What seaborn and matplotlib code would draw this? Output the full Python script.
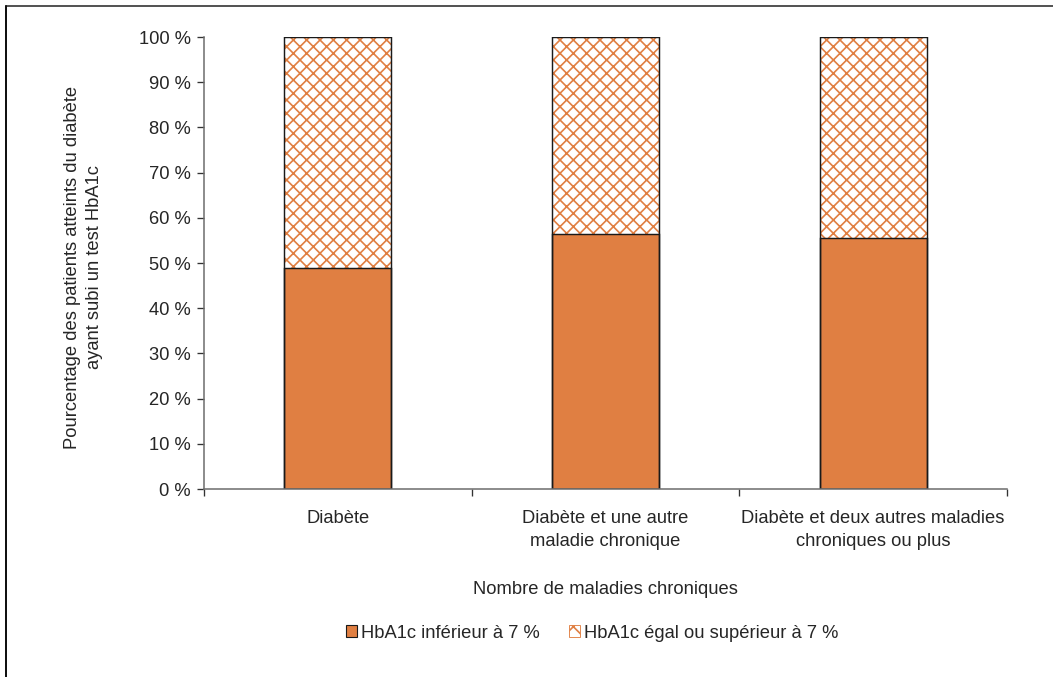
import matplotlib
matplotlib.use('Agg')
import matplotlib.pyplot as plt
from matplotlib.patches import Patch
from matplotlib.lines import Line2D
from matplotlib.ticker import FuncFormatter, FixedLocator
import pandas as pd
import seaborn as sns

# données
categories = ['Diabète',
              'Diabète et une autre\nmaladie chronique',
              'Diabète et deux autres maladies\nchroniques ou plus']
below_7 = [49.0, 56.5, 55.6]
total = [100, 100, 100]
series_names = ['HbA1c inférieur à 7 %', 'HbA1c égal ou supérieur à 7 %']

ORANGE = '#E07F42'
EDGE = '#1a1a1a'
FS = 16.5

sns.set_style('white')
plt.rcParams['font.family'] = ['Liberation Sans', 'DejaVu Sans']
plt.rcParams['hatch.linewidth'] = 1.5

df = pd.DataFrame({'cat': categories, 'below': below_7, 'total': total})

DPI = 80
fig = plt.figure(figsize=(1053 / DPI, 677 / DPI), dpi=DPI)
ax = fig.add_axes([204 / 1053, 1 - 489 / 677, 803 / 1053, 452 / 677])

# partie hachurée (>= 7 %) : barre pleine hauteur
sns.barplot(data=df, x='cat', y='total', color='white', edgecolor=ORANGE,
            hatch='xx', linewidth=0, width=0.4, ax=ax)
# partie pleine (< 7 %)
sns.barplot(data=df, x='cat', y='below', color=ORANGE, edgecolor=EDGE,
            linewidth=1.3, saturation=1, width=0.4, ax=ax)
# contour des barres
sns.barplot(data=df, x='cat', y='total', color=EDGE, fill=False,
            linewidth=1.3, width=0.4, ax=ax)

ax.set_ylim(0, 100)
ax.set_xlim(-0.5, 2.5)
ax.set_yticks(range(0, 101, 10))
ax.yaxis.set_major_formatter(FuncFormatter(lambda v, p: f'{int(v)} %'))

for side in ['top', 'right']:
    ax.spines[side].set_visible(False)
for side in ['left', 'bottom']:
    ax.spines[side].set_color('#6e6e6e')
    ax.spines[side].set_linewidth(1.4)

ax.tick_params(axis='y', which='major', direction='out', length=6, width=1.2,
               color='#333333', left=True, labelsize=FS, pad=6)
ax.tick_params(axis='x', which='major', length=0, labelsize=FS, pad=19)
ax.xaxis.set_minor_locator(FixedLocator([-0.5, 0.5, 1.5, 2.5]))
ax.tick_params(axis='x', which='minor', direction='out', length=6, width=1.2,
               color='#333333', bottom=True)
for lab in ax.get_xticklabels():
    lab.set_linespacing(1.45)

ax.set_ylabel('Pourcentage des patients atteints du diabète\nayant subi un test HbA1c',
              fontsize=FS, linespacing=1.4)
ax.yaxis.set_label_coords(-0.126, 0.49)
ax.set_xlabel('Nombre de maladies chroniques', fontsize=FS)
ax.xaxis.set_label_coords(0.5, (489 - 581) / 452)

handles = [Patch(facecolor=ORANGE, edgecolor=EDGE, linewidth=1.0),
           Patch(facecolor='white', edgecolor=ORANGE, hatch='x', linewidth=0.8)]
fig.legend(handles, series_names, loc='center', ncol=2, frameon=False,
           bbox_to_anchor=(592 / 1053, 1 - 633 / 677), fontsize=FS,
           handlelength=0.6, handleheight=0.6, handletextpad=0.2,
           columnspacing=1.6)

# cadre de la figure (haut et gauche visibles)
fig.add_artist(Line2D([6 / 1053, 1.0], [1 - 6 / 677, 1 - 6 / 677],
                      transform=fig.transFigure, color='#555555', linewidth=1.8))
fig.add_artist(Line2D([6 / 1053, 6 / 1053], [0.0, 1 - 6 / 677],
                      transform=fig.transFigure, color='#111111', linewidth=1.8))

fig.savefig('out.png', dpi=DPI)
